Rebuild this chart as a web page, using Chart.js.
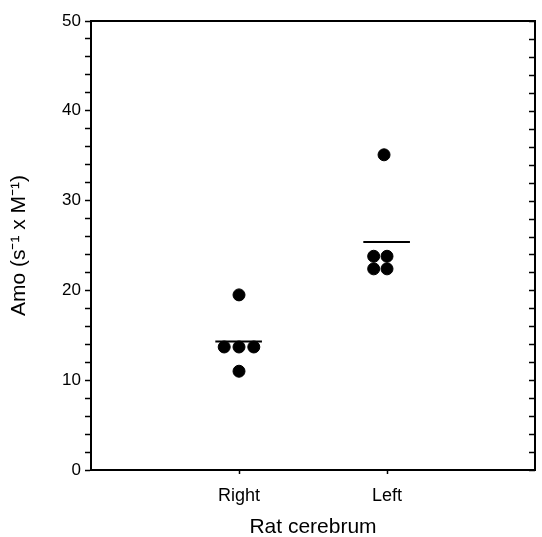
<!DOCTYPE html>
<html>
<head>
<meta charset="utf-8">
<script src="https://cdn.jsdelivr.net/npm/chart.js@4"></script>
<style>
  html, body { margin: 0; padding: 0; background: #fff; }
  #wrap { width: 542px; height: 537px; }
</style>
</head>
<body>
<div id="wrap"><canvas id="chart"></canvas></div>
<script>
// Categories on the x axis (placed at x = 1, 2)
const categories = ['Right', 'Left'];
// Individual measurements per group, with small horizontal jitter (data units)
const rightValues = [19.5, 13.7, 13.7, 13.7, 11.0];
const rightJitter = [0, -0.1, 0, 0.1, 0];
const leftValues = [35.1, 23.8, 23.8, 22.4, 22.4];
const leftJitter = [-0.02, -0.09, 0, -0.09, 0];
// Group means shown as horizontal bars
const meanValues = [14.3, 25.4];
// y axis ticks
const yMin = 0, yMax = 50, yMinorStep = 2, yMajorStep = 10;

const FONT = "'Liberation Sans', Arial, Helvetica, sans-serif";

function toPoints(values, jitter, catIndex) {
  return values.map((v, i) => ({ x: catIndex + 1 + jitter[i], y: v }));
}

// Mean bars: one short line dataset per group
const meanDatasets = meanValues.map((m, i) => ({
  type: 'line',
  data: [{ x: i + 1 - 0.16, y: m }, { x: i + 1 + 0.155, y: m }],
  borderColor: '#000',
  borderWidth: 2,
  pointRadius: 0,
  fill: false,
}));

// Draws the top and right frame plus inward ticks on the right side
const framePlugin = {
  id: 'frame',
  afterDraw(chart) {
    const { ctx, chartArea } = chart;
    const yScale = chart.scales.y;
    ctx.save();
    ctx.strokeStyle = '#000';
    ctx.lineWidth = 2;
    ctx.beginPath();
    ctx.moveTo(chartArea.left, chartArea.top);
    ctx.lineTo(chartArea.right, chartArea.top);
    ctx.lineTo(chartArea.right, chartArea.bottom);
    ctx.stroke();
    ctx.lineWidth = 1.5;
    ctx.beginPath();
    for (let v = yMin; v <= yMax; v += yMinorStep) {
      const py = Math.round(yScale.getPixelForValue(v)) + 0.5;
      ctx.moveTo(chartArea.right, py);
      ctx.lineTo(chartArea.right - 6, py);
    }
    ctx.stroke();
    ctx.restore();
  }
};

const chartConfig = {
  type: 'scatter',
  data: {
    datasets: [
      {
        data: toPoints(rightValues, rightJitter, 0),
        backgroundColor: '#000',
        borderColor: '#000',
        pointRadius: 6,
        pointHoverRadius: 6,
      },
      {
        data: toPoints(leftValues, leftJitter, 1),
        backgroundColor: '#000',
        borderColor: '#000',
        pointRadius: 6,
        pointHoverRadius: 6,
      },
      ...meanDatasets,
    ],
  },
  options: {
    responsive: true,
    maintainAspectRatio: false,
    animation: false,
    layout: { padding: { top: 21, right: 6, left: 0, bottom: 0 } },
    plugins: {
      legend: { display: false },
      tooltip: { enabled: false },
    },
    scales: {
      x: {
        type: 'linear',
        min: 0,
        max: 3,
        afterBuildTicks(scale) {
          scale.ticks = categories.map((c, i) => ({ value: i + 1 }));
        },
        afterFit(scale) { scale.height = 67; },
        ticks: {
          callback: (v) => categories[v - 1] || '',
          color: '#000',
          font: { family: FONT, size: 18 },
          padding: 11,
          maxRotation: 0,
        },
        grid: {
          drawOnChartArea: false,
          color: '#000',
          tickLength: 4,
          tickWidth: 1.5,
        },
        border: { color: '#000', width: 2 },
        title: {
          display: true,
          text: 'Rat cerebrum',
          color: '#000',
          font: { family: FONT, size: 21, lineHeight: 1 },
          padding: { top: 0, bottom: -1 },
        },
      },
      y: {
        min: yMin,
        max: yMax,
        afterFit(scale) { scale.width = 91; },
        ticks: {
          stepSize: yMinorStep,
          autoSkip: false,
          callback: (v) => (v % yMajorStep === 0 ? v : ''),
          color: '#000',
          font: { family: FONT, size: 17 },
          padding: 4,
        },
        grid: {
          drawOnChartArea: false,
          color: '#000',
          tickLength: 6,
          tickWidth: 1.5,
        },
        border: { color: '#000', width: 2 },
        title: {
          display: true,
          text: 'Amo (s\u207B\u00B9 x M\u207B\u00B9)',
          color: '#000',
          font: { family: FONT, size: 21, lineHeight: 1 },
          padding: { top: 9, bottom: 0 },
        },
      },
    },
  },
  plugins: [framePlugin],
};

new Chart(document.getElementById('chart'), chartConfig);
</script>
</body>
</html>
